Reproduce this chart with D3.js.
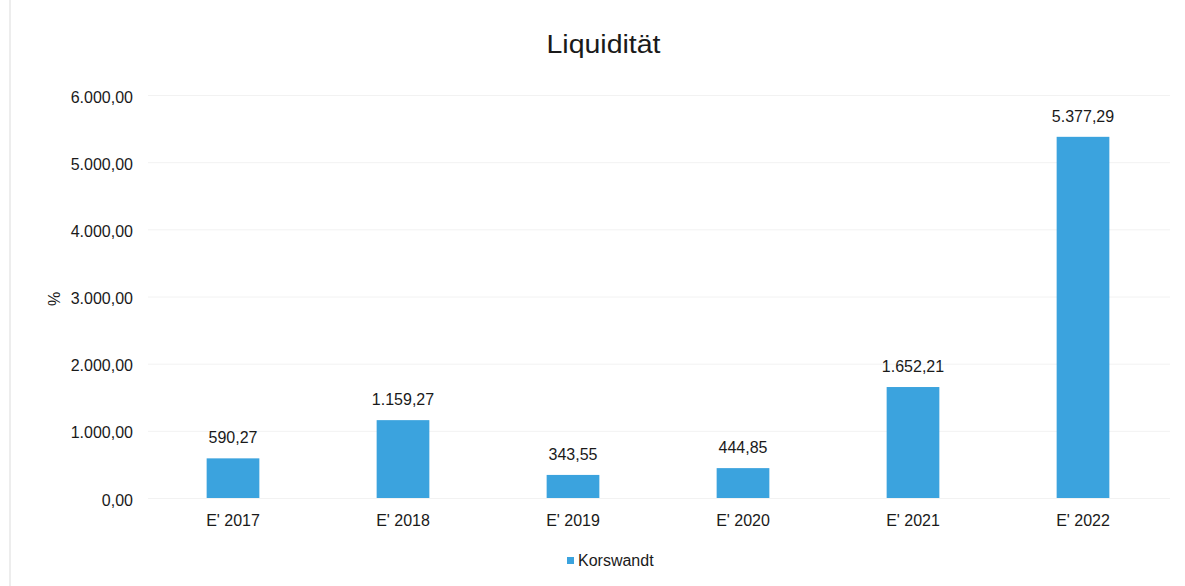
<!DOCTYPE html>
<html>
<head>
<meta charset="utf-8">
<script src="https://cdn.jsdelivr.net/npm/d3@7"></script>
<style>
  html, body { margin: 0; padding: 0; background: #fff; }
  svg { display: block; font-family: "Liberation Sans", Arial, sans-serif; }
</style>
</head>
<body>
<svg id="chart" width="1185" height="586"></svg>
<script>
// Liquidität per year, in percent
const categories = ["E' 2017", "E' 2018", "E' 2019", "E' 2020", "E' 2021", "E' 2022"];
const values = [590.27, 1159.27, 343.55, 444.85, 1652.21, 5377.29];
const yTicks = [0, 1000, 2000, 3000, 4000, 5000, 6000];
const seriesName = "Korswandt";
const title = "Liquidität";

(function () {
const svg = d3.select("#chart");
const W = 1185, H = 586;
const plotLeft = 148, plotRight = 1168, plotTop = 95, plotBottom = 498;
const barColor = "#3ba3de";
const ink = "#1a1a1a";
const fontSize = 16;

// German number format: 1.234,56
const fmt = d3.formatLocale({ decimal: ",", thousands: ".", grouping: [3], currency: ["", "€"] }).format(",.2f");

const x = d3.scaleBand().domain(categories).range([plotLeft, plotRight]).paddingInner(0.69).paddingOuter(0.345);
const y = d3.scaleLinear().domain([0, 6000]).range([plotBottom, plotTop]);

// faint page border on the left
svg.append("line").attr("x1", 10).attr("x2", 10).attr("y1", 0).attr("y2", H)
  .attr("stroke", "#ededed").attr("stroke-width", 2);

// title
svg.append("text").attr("transform", "translate(603.5,53) scale(1.14,1)").attr("text-anchor", "middle")
  .attr("font-size", 25).attr("fill", ink).text(title);

// gridlines + y tick labels
const yAxis = d3.axisLeft(y).tickValues(yTicks).tickFormat(fmt).tickSize(-(plotRight - plotLeft + 2)).tickPadding(15);
const gy = svg.append("g").attr("transform", `translate(${plotLeft},0)`).call(yAxis);
gy.select(".domain").remove();
gy.selectAll(".tick line").attr("stroke", "#f2f2f2").attr("stroke-width", 1);
gy.selectAll(".tick text").attr("font-size", fontSize).attr("fill", ink)
  .attr("font-family", "Liberation Sans, Arial, sans-serif")
  .attr("dy", "0.32em").attr("transform", "translate(0,2)");

// y axis title
svg.append("text").attr("transform", "translate(60,299) rotate(-90)")
  .attr("text-anchor", "middle").attr("font-size", fontSize).attr("fill", ink).text("%");

// bars
svg.append("g").selectAll("rect").data(values).join("rect")
  .attr("x", (d, i) => x(categories[i]))
  .attr("width", x.bandwidth())
  .attr("y", d => y(d))
  .attr("height", d => y(0) - y(d))
  .attr("fill", barColor);

// value labels
svg.append("g").selectAll("text").data(values).join("text")
  .attr("x", (d, i) => x(categories[i]) + x.bandwidth() / 2)
  .attr("y", d => y(d) - 15)
  .attr("text-anchor", "middle").attr("font-size", fontSize).attr("fill", ink)
  .text(d => fmt(d));

// category labels
const xAxis = d3.axisBottom(x).tickSize(0).tickPadding(17);
const gx = svg.append("g").attr("transform", `translate(0,${plotBottom})`).call(xAxis);
gx.select(".domain").remove();
gx.selectAll(".tick text").attr("font-size", fontSize).attr("fill", ink)
  .attr("font-family", "Liberation Sans, Arial, sans-serif");

// legend
const lg = svg.append("g").attr("transform", "translate(567,560)");
lg.append("rect").attr("x", 0).attr("y", -3).attr("width", 7).attr("height", 7).attr("fill", barColor);
lg.append("text").attr("x", 11).attr("y", 6).attr("font-size", fontSize).attr("fill", ink).text(seriesName);
})();
</script>
</body>
</html>
